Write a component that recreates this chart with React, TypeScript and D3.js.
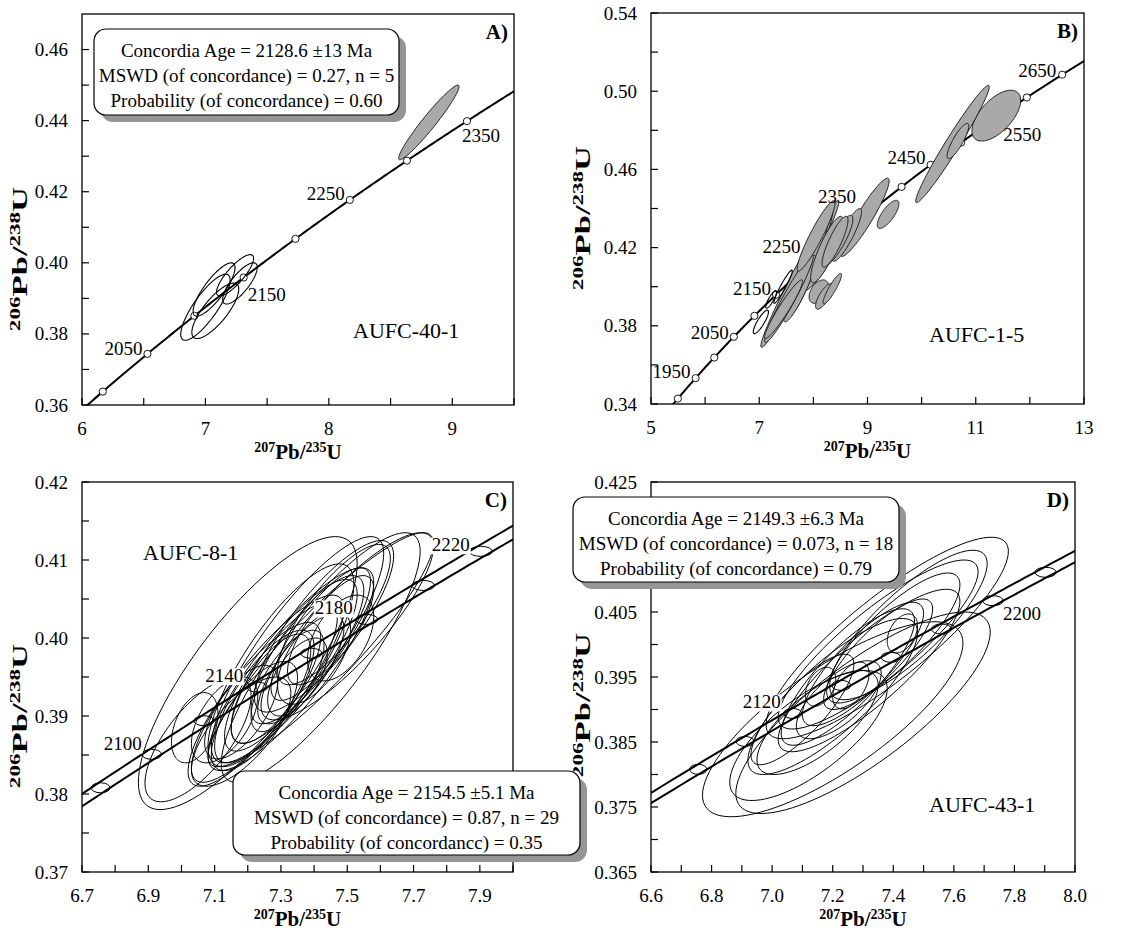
import React from 'react';
import * as d3 from 'd3';

// decay constants (per year) used for the concordia curve
const L238 = 1.55125e-10;
const L235 = 9.8485e-10;
const BAND_REL = 0.0018; // relative uncertainty envelope on lambda235 (panels C, D)

type Ell = [number, number, number, number, number]; // x, sx, y, sy, rho

// ---------- Panel A : AUFC-40-1 ----------
const markerAgesA = [2000, 2050, 2100, 2150, 2200, 2250, 2300, 2350];
const labelAgesA = [2050, 2150, 2250, 2350];
const openA: Ell[] = [
  [7.0, 0.2, 0.3875, 0.0093, 0.82],
  [7.08, 0.19, 0.3865, 0.0078, 0.78],
  [7.07, 0.17, 0.3925, 0.0075, 0.82],
  [7.24, 0.15, 0.3965, 0.0058, 0.82],
  [7.28, 0.14, 0.3942, 0.0058, 0.78],
];
const grayA: Ell[] = [[8.81, 0.245, 0.4395, 0.0105, 0.96]];
const xTicksA = [6, 7, 8, 9];
const xMinorA = [6.5, 7.5, 8.5, 9.5];
const yTicksA = [0.36, 0.38, 0.4, 0.42, 0.44, 0.46];
const yMinorA = [0.37, 0.39, 0.41, 0.43, 0.45];
const boxA = ['Concordia Age = 2128.6 ±13 Ma', 'MSWD (of concordance) = 0.27, n = 5', 'Probability (of concordance) = 0.60'];

// ---------- Panel B : AUFC-1-5 ----------
const markerAgesB = [1900, 1950, 2000, 2050, 2100, 2150, 2200, 2250, 2300, 2350, 2400, 2450, 2500, 2550, 2600, 2650];
const labelAgesB = [1950, 2050, 2150, 2250, 2350, 2450, 2550, 2650];
const grayB: Ell[] = [
  [11.38, 0.45, 0.4875, 0.013, 0.6],
  [10.57, 0.68, 0.473, 0.03, 0.975],
  [10.67, 0.2, 0.4745, 0.009, 0.85],
  [9.38, 0.2, 0.437, 0.0072, 0.75],
  [8.95, 0.45, 0.4355, 0.02, 0.93],
  [8.62, 0.27, 0.4265, 0.0135, 0.88],
  [8.45, 0.28, 0.4235, 0.013, 0.85],
  [7.75, 0.72, 0.4065, 0.0375, 0.98],
  [7.95, 0.42, 0.414, 0.029, 0.93],
  [8.1, 0.4, 0.414, 0.017, 0.82],
  [8.0, 0.28, 0.418, 0.02, 0.88],
  [8.1, 0.18, 0.3975, 0.006, 0.45],
  [8.2, 0.16, 0.395, 0.0065, 0.75],
  [8.35, 0.17, 0.399, 0.0078, 0.9],
  [7.75, 0.3, 0.399, 0.017, 0.9],
  [8.25, 0.3, 0.419, 0.017, 0.85],
  [7.55, 0.45, 0.394, 0.0225, 0.96],
  [8.05, 0.35, 0.426, 0.018, 0.93],
  [8.4, 0.24, 0.423, 0.013, 0.85],
  [7.45, 0.35, 0.3885, 0.015, 0.95],
];
const openB: Ell[] = [
  [7.03, 0.14, 0.382, 0.006, 0.85],
  [7.44, 0.17, 0.4, 0.0085, 0.95],
  [7.22, 0.1, 0.3935, 0.0045, 0.85],
];
const xTicksB = [5, 7, 9, 11, 13];
const xMinorB = [6, 8, 10, 12];
const yTicksB = [0.34, 0.38, 0.42, 0.46, 0.5, 0.54];
const yMinorB = [0.36, 0.4, 0.44, 0.48, 0.52];

// ---------- Panel C : AUFC-8-1 ----------
const markerAgesC = [2080, 2100, 2120, 2140, 2160, 2180, 2200, 2220];
const labelAgesC = [2100, 2140, 2180, 2220];
const openC: Ell[] = [
  [7.2, 0.33, 0.3955, 0.0175, 0.8],
  [7.42, 0.34, 0.3985, 0.015, 0.91],
  [7.42, 0.3, 0.3975, 0.016, 0.85],
  [7.5, 0.26, 0.4015, 0.012, 0.85],
  [7.35, 0.26, 0.3985, 0.0145, 0.85],
  [7.3, 0.22, 0.3965, 0.013, 0.8],
  [7.05, 0.16, 0.387, 0.008, 0.7],
  [7.04, 0.07, 0.3885, 0.0045, 0.4],
  [7.13, 0.1, 0.3895, 0.0055, 0.55],
  [7.18, 0.11, 0.3905, 0.006, 0.65],
  [7.22, 0.13, 0.39, 0.007, 0.7],
  [7.25, 0.15, 0.3925, 0.0085, 0.75],
  [7.27, 0.12, 0.3935, 0.007, 0.7],
  [7.3, 0.17, 0.395, 0.0095, 0.8],
  [7.32, 0.11, 0.3945, 0.0065, 0.7],
  [7.34, 0.19, 0.397, 0.0105, 0.82],
  [7.36, 0.13, 0.396, 0.007, 0.75],
  [7.38, 0.17, 0.3985, 0.0095, 0.8],
  [7.4, 0.11, 0.3975, 0.006, 0.6],
  [7.42, 0.15, 0.4005, 0.0085, 0.8],
  [7.45, 0.13, 0.401, 0.007, 0.75],
  [7.48, 0.1, 0.4, 0.0055, 0.5],
  [7.26, 0.23, 0.3935, 0.012, 0.85],
  [7.33, 0.25, 0.396, 0.013, 0.85],
  [7.22, 0.2, 0.3915, 0.0105, 0.82],
  [7.43, 0.21, 0.4015, 0.011, 0.82],
  [7.35, 0.09, 0.395, 0.005, 0.6],
  [7.18, 0.15, 0.388, 0.007, 0.7],
  [7.46, 0.17, 0.403, 0.009, 0.8],
];
const xTicksC = [6.7, 6.9, 7.1, 7.3, 7.5, 7.7, 7.9];
const xMinorC = [6.8, 7.0, 7.2, 7.4, 7.6, 7.8, 8.0];
const yTicksC = [0.37, 0.38, 0.39, 0.4, 0.41, 0.42];
const yMinorC = [0.375, 0.385, 0.395, 0.405, 0.415];
const boxC = ['Concordia Age = 2154.5 ±5.1 Ma', 'MSWD (of concordance) = 0.87, n = 29', 'Probability (of concordancc) = 0.35'];

// ---------- Panel D : AUFC-43-1 ----------
const markerAgesD = [2080, 2100, 2120, 2140, 2160, 2180, 2200, 2220];
const labelAgesD = [2120, 2200];
const openD: Ell[] = [
  [7.2, 0.43, 0.3885, 0.015, 0.78],
  [7.3, 0.42, 0.3895, 0.0155, 0.8],
  [7.38, 0.4, 0.401, 0.0155, 0.86],
  [7.35, 0.33, 0.4, 0.013, 0.86],
  [7.12, 0.26, 0.386, 0.01, 0.72],
  [7.2, 0.28, 0.392, 0.012, 0.82],
  [7.26, 0.06, 0.3937, 0.0036, 0.5],
  [7.43, 0.05, 0.4017, 0.003, 0.4],
  [7.16, 0.05, 0.3935, 0.003, 0.4],
  [7.3, 0.2, 0.397, 0.0095, 0.82],
  [7.25, 0.22, 0.395, 0.0105, 0.82],
  [7.4, 0.22, 0.401, 0.01, 0.82],
  [7.35, 0.18, 0.3985, 0.0085, 0.82],
  [7.45, 0.26, 0.403, 0.0115, 0.82],
  [7.15, 0.2, 0.388, 0.008, 0.72],
  [7.1, 0.17, 0.39, 0.0085, 0.82],
  [7.22, 0.14, 0.3915, 0.006, 0.68],
  [7.32, 0.3, 0.396, 0.0125, 0.85],
];
const xTicksD = [6.6, 6.8, 7.0, 7.2, 7.4, 7.6, 7.8, 8.0];
const xMinorD = [6.7, 6.9, 7.1, 7.3, 7.5, 7.7, 7.9];
const yTicksD = [0.365, 0.375, 0.385, 0.395, 0.405, 0.415, 0.425];
const yLabelsD = [0.365, 0.375, 0.385, 0.395, 0.405, 0.425]; // 0.415 hidden under the statistics box
const yMinorD = [0.37, 0.38, 0.39, 0.4, 0.41, 0.42];
const boxD = ['Concordia Age = 2149.3 ±6.3 Ma', 'MSWD (of concordance) = 0.073, n = 18', 'Probability (of concordance) = 0.79'];

const FONT = "'Liberation Serif', 'Times New Roman', Times, serif";

const conc = (tMa: number, k = 1): [number, number] => [
  Math.exp(L235 * k * tMa * 1e6) - 1,
  Math.exp(L238 * tMa * 1e6) - 1,
];

const ellPts = (e: Ell): [number, number][] => {
  const [cx, sx, cy, sy, r] = e;
  const q = Math.sqrt(1 - r * r);
  return d3.range(0, 96).map((i) => {
    const t = (i / 96) * 2 * Math.PI;
    return [cx + sx * Math.cos(t), cy + sy * (r * Math.cos(t) + q * Math.sin(t))];
  });
};

interface PanelCfg {
  id: string;
  frame: [number, number, number, number];
  xd: [number, number];
  yd: [number, number];
  xt: number[];
  xm: number[];
  yt: number[];
  yl: number[];
  ym: number[];
  xf: (v: number) => string;
  yf: (v: number) => string;
  gray: Ell[];
  open: Ell[];
  markers: number[];
  labels: number[];
  labelPlace: [number, number, string][];
  band: boolean;
  letter: string;
  sample: string;
  samplePos: [number, number];
  yTitle: [number, number];
}

const panels: PanelCfg[] = [
  {
    id: 'A', frame: [82, 514, 14, 405], xd: [6, 9.5], yd: [0.36, 0.47],
    xt: xTicksA, xm: xMinorA, yt: yTicksA, yl: yTicksA, ym: yMinorA,
    xf: d3.format('d'), yf: d3.format('.2f'),
    gray: grayA, open: openA, markers: markerAgesA, labels: labelAgesA,
    labelPlace: [[-5, 1, 'end'], [4, 24, 'start'], [-5, 0, 'end'], [-5, 21, 'start']],
    band: false, letter: 'A)', sample: 'AUFC-40-1', samplePos: [353, 338], yTitle: [27, 259],
  },
  {
    id: 'B', frame: [651, 1084, 13, 404], xd: [5, 13], yd: [0.34, 0.54],
    xt: xTicksB, xm: xMinorB, yt: yTicksB, yl: yTicksB, ym: yMinorB,
    xf: d3.format('d'), yf: d3.format('.2f'),
    gray: grayB, open: openB, markers: markerAgesB, labels: labelAgesB,
    labelPlace: [[-5, 0, 'end'], [-5, 2, 'end'], [-5, 0, 'end'], [-22, 1, 'end'], [-18, -6, 'end'], [-5, -1, 'end'], [10, 21, 'start'], [-6, 2, 'end']],
    band: false, letter: 'B)', sample: 'AUFC-1-5', samplePos: [929, 342], yTitle: [590, 218],
  },
  {
    id: 'C', frame: [82, 513, 482, 872], xd: [6.7, 8.0], yd: [0.37, 0.42],
    xt: xTicksC, xm: xMinorC, yt: yTicksC, yl: yTicksC, ym: yMinorC,
    xf: d3.format('.1f'), yf: d3.format('.2f'),
    gray: [], open: openC, markers: markerAgesC, labels: labelAgesC,
    labelPlace: [[-10, -4, 'end'], [-14, -5, 'end'], [-14, -5, 'end'], [-11, 0, 'end']],
    band: true, letter: 'C)', sample: 'AUFC-8-1', samplePos: [143, 560], yTitle: [27, 716],
  },
  {
    id: 'D', frame: [651, 1075, 482, 872], xd: [6.6, 8.0], yd: [0.365, 0.425],
    xt: xTicksD, xm: xMinorD, yt: yTicksD, yl: yLabelsD, ym: yMinorD,
    xf: d3.format('.1f'), yf: d3.format('.3f'),
    gray: [], open: openD, markers: markerAgesD, labels: labelAgesD,
    labelPlace: [[-12, -5, 'end'], [10, 19, 'start']],
    band: true, letter: 'D)', sample: 'AUFC-43-1', samplePos: [929, 812], yTitle: [590, 705],
  },
];

const boxes = [
  { x: 94, y: 29, w: 305, h: 86, lines: boxA },
  { x: 233, y: 771, w: 347, h: 84, lines: boxC },
  { x: 573, y: 497, w: 326, h: 85, lines: boxD },
];

const curveAges = d3.range(1700, 2900, 2);

function Title({ x, y, a, b, rotate }: { x: number; y: number; a: string; b: string; rotate?: boolean }) {
  return (
    <text
      transform={rotate ? `translate(${x},${y}) rotate(-90) scale(1.65,1)` : `translate(${x},${y})`}
      textAnchor="middle" fontWeight="bold" fontFamily={FONT} fill="#000"
    >
      <tspan fontSize={14} dy={-7}>{a}</tspan>
      <tspan fontSize={21} dy={7}>Pb/</tspan>
      <tspan fontSize={14} dy={-7}>{b}</tspan>
      <tspan fontSize={21} dy={7}>U</tspan>
    </text>
  );
}

function Panel({ p }: { p: PanelCfg }) {
  const [x0, x1, y0, y1] = p.frame;
  const xs = d3.scaleLinear().domain(p.xd).range([x0, x1]);
  const ys = d3.scaleLinear().domain(p.yd).range([y1, y0]);
  const line = d3.line<[number, number]>().x((d) => xs(d[0])).y((d) => ys(d[1]));
  const closed = d3.line<[number, number]>().x((d) => xs(d[0])).y((d) => ys(d[1])).curve(d3.curveLinearClosed);
  const clipId = `clip-${p.id}`;
  const tick = 7;

  const mainCurve = line(curveAges.map((t) => conc(t)));
  const bandHi = line(curveAges.map((t) => conc(t, 1 - BAND_REL)));
  const bandLo = line(curveAges.map((t) => conc(t, 1 + BAND_REL)));

  return (
    <g>
      <defs>
        <clipPath id={clipId}>
          <rect x={x0} y={y0} width={x1 - x0} height={y1 - y0} />
        </clipPath>
      </defs>
      <g clipPath={`url(#${clipId})`}>
        {p.band ? (
          <>
            {p.open.map((e, i) => (
              <path key={'o' + i} d={closed(ellPts(e)) || ''} fill="none" stroke="#000" strokeWidth={1} />
            ))}
            <path d={bandHi || ''} fill="none" stroke="#000" strokeWidth={2} />
            <path d={bandLo || ''} fill="none" stroke="#000" strokeWidth={2} />
            {p.markers.map((t) => {
              const [cx, cy] = conc(t);
              const rx = Math.abs(xs(conc(t, 1 + BAND_REL)[0]) - xs(conc(t, 1 - BAND_REL)[0])) / 2;
              return <ellipse key={t} cx={xs(cx)} cy={ys(cy)} rx={rx} ry={5} fill="none" stroke="#000" strokeWidth={1} />;
            })}
          </>
        ) : (
          <>
            <path d={mainCurve || ''} fill="none" stroke="#000" strokeWidth={2} />
            {p.markers.map((t) => {
              const [cx, cy] = conc(t);
              return <circle key={t} cx={xs(cx)} cy={ys(cy)} r={3.6} fill="#fff" stroke="#000" strokeWidth={0.9} />;
            })}
            {p.gray.map((e, i) => (
              <path key={'g' + i} d={closed(ellPts(e)) || ''} fill="#a9a9a9" stroke="#111" strokeWidth={0.9} />
            ))}
            {p.open.map((e, i) => (
              <path key={'o' + i} d={closed(ellPts(e)) || ''} fill="none" stroke="#000" strokeWidth={1.1} />
            ))}
          </>
        )}
      </g>
      {p.labels.map((t, i) => {
        const [cx, cy] = conc(t);
        const [dx, dy, anchor] = p.labelPlace[i];
        const tx = xs(cx) + dx;
        const ty = ys(cy) + dy;
        const w = 38;
        const rx = anchor === 'end' ? tx - w : tx;
        return (
          <g key={'l' + t}>
            {p.band && <rect x={rx - 1} y={ty - 14} width={w + 2} height={17} fill="#fff" />}
            <text x={tx} y={ty} textAnchor={anchor as any} fontSize={19} fontFamily={FONT} fill="#000">
              {t}
            </text>
          </g>
        );
      })}
      <rect x={x0} y={y0} width={x1 - x0} height={y1 - y0} fill="none" stroke="#000" strokeWidth={1.3} />
      {[...p.xt, ...p.xm].map((v, i) => (
        <line key={'xt' + i} x1={xs(v)} x2={xs(v)} y1={y1} y2={y1 - tick} stroke="#000" strokeWidth={1.2} />
      ))}
      {[...p.yt, ...p.ym].map((v, i) => (
        <line key={'yt' + i} x1={x0} x2={x0 + tick} y1={ys(v)} y2={ys(v)} stroke="#000" strokeWidth={1.2} />
      ))}
      {p.xt.map((v, i) => (
        <text key={'xl' + i} x={xs(v)} y={y1 + 30} textAnchor="middle" fontSize={19} fontFamily={FONT}>
          {p.xf(v)}
        </text>
      ))}
      {p.yl.map((v, i) => (
        <text key={'yl' + i} x={x0 - 14} y={ys(v) + 6.5} textAnchor="end" fontSize={19} fontFamily={FONT}>
          {p.yf(v)}
        </text>
      ))}
      <Title x={(x0 + x1) / 2} y={y1 + 54} a="207" b="235" />
      <Title x={p.yTitle[0]} y={p.yTitle[1]} a="206" b="238" rotate />
      <text x={x1 - 6} y={y0 + 25} textAnchor="end" fontSize={21} fontWeight="bold" fontFamily={FONT}>
        {p.letter}
      </text>
      <text x={p.samplePos[0]} y={p.samplePos[1]} fontSize={22} fontFamily={FONT}>
        {p.sample}
      </text>
    </g>
  );
}

export default function App() {
  return (
    <svg
      width={1148}
      height={931}
      viewBox="0 0 1148 931"
      style={{ position: 'absolute', left: 0, top: 0, background: '#fff' }}
    >
      <rect x={0} y={0} width={1148} height={931} fill="#fff" />
      {panels.map((p) => (
        <Panel key={p.id} p={p} />
      ))}
      {boxes.map((b, i) => (
        <g key={'b' + i}>
          <rect x={b.x + 7} y={b.y + 7} width={b.w} height={b.h} rx={12} fill="#959595" />
          <rect x={b.x} y={b.y} width={b.w} height={b.h} rx={12} fill="#fff" stroke="#000" strokeWidth={1.2} />
          {b.lines.map((s, j) => (
            <text key={j} x={b.x + b.w / 2} y={b.y + 27.5 + j * 25} textAnchor="middle" fontSize={19} fontFamily={FONT}>
              {s}
            </text>
          ))}
        </g>
      ))}
    </svg>
  );
}
